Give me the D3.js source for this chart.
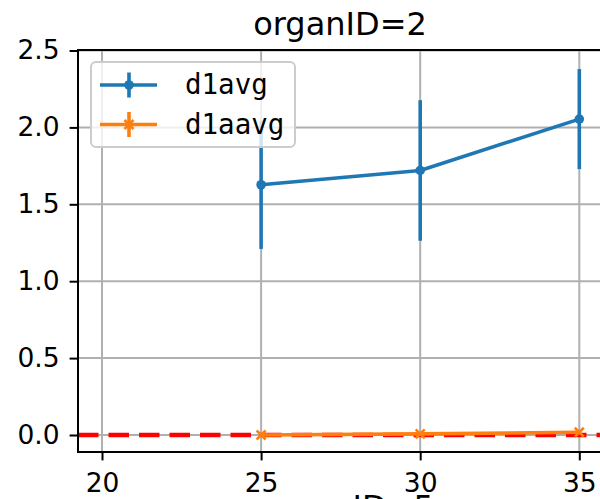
<!DOCTYPE html>
<html><head><meta charset="utf-8">
<script src="https://cdn.jsdelivr.net/npm/d3@7"></script>
<style>body{margin:0;background:#fff;overflow:hidden}svg{display:block}</style>
</head><body>
<svg id="c" width="600" height="499"></svg>
<script>
// ---- data ----
const xVals = [25, 30, 35];
const d1avg = [1.627, 1.72, 2.054];
const d1avgErr = [0.417, 0.457, 0.325];
const d1aavg = [0.0, 0.007, 0.018];
const d1aavgErr = [0.003, 0.003, 0.004];
const xTicks = [20, 25, 30, 35];
const yTicks = [0.0, 0.5, 1.0, 1.5, 2.0, 2.5];
const seriesNames = ["d1avg", "d1aavg"];
const titleText = "organID=2";
const nextTitleText = "organID=5";

const svg = d3.select("#c");
const L = 78, R = 603, T = 50, B = 452;
const x = d3.scaleLinear().domain([20, 35]).range([102, 579.3]);
const y = d3.scaleLinear().domain([0, 2.5]).range([435, 50.5]);
const blue = "#1f77b4", orange = "#ff7f0e";
const sans = "'DejaVu Sans', sans-serif";

svg.append("defs").append("clipPath").attr("id","clip")
  .append("rect").attr("x", L).attr("y", T).attr("width", R-L).attr("height", B-T);

// grid
const g = svg.append("g").attr("clip-path","url(#clip)");
g.selectAll(".gx").data(xTicks).join("line")
  .attr("x1", d=>x(d)).attr("x2", d=>x(d)).attr("y1", T).attr("y2", B)
  .attr("stroke","#b0b0b0").attr("stroke-width",2);
g.selectAll(".gy").data(yTicks).join("line")
  .attr("x1", L).attr("x2", R).attr("y1", d=>y(d)).attr("y2", d=>y(d))
  .attr("stroke","#b0b0b0").attr("stroke-width",2);

// red dashed zero line
g.append("line").attr("x1", L).attr("x2", R).attr("y1", y(0)).attr("y2", y(0))
  .attr("stroke","red").attr("stroke-width",4.6).attr("stroke-dasharray","20.5,10");

const line = d3.line().x((d,i)=>x(xVals[i])).y(d=>y(d));

// d1avg
g.selectAll(".eb1").data(d1avg).join("line")
  .attr("x1",(d,i)=>x(xVals[i])).attr("x2",(d,i)=>x(xVals[i]))
  .attr("y1",(d,i)=>y(d-d1avgErr[i])).attr("y2",(d,i)=>y(d+d1avgErr[i]))
  .attr("stroke",blue).attr("stroke-width",3.6);
g.append("path").datum(d1avg).attr("d",line).attr("fill","none")
  .attr("stroke",blue).attr("stroke-width",3.6).attr("stroke-linejoin","round");
g.selectAll(".m1").data(d1avg).join("circle")
  .attr("cx",(d,i)=>x(xVals[i])).attr("cy",d=>y(d)).attr("r",4.8).attr("fill",blue);

// d1aavg
g.selectAll(".eb2").data(d1aavg).join("line")
  .attr("x1",(d,i)=>x(xVals[i])).attr("x2",(d,i)=>x(xVals[i]))
  .attr("y1",(d,i)=>y(d-d1aavgErr[i])).attr("y2",(d,i)=>y(d+d1aavgErr[i]))
  .attr("stroke",orange).attr("stroke-width",3.6);
g.append("path").datum(d1aavg).attr("d",line).attr("fill","none")
  .attr("stroke",orange).attr("stroke-width",3.6).attr("stroke-linejoin","round");
const xs = 4.5;
g.selectAll(".m2").data(d1aavg).join("path")
  .attr("d",(d,i)=>{const cx=x(xVals[i]), cy=y(d);
    return `M${cx-xs},${cy-xs}L${cx+xs},${cy+xs}M${cx-xs},${cy+xs}L${cx+xs},${cy-xs}`;})
  .attr("stroke",orange).attr("stroke-width",2.6).attr("fill","none");

// axes
const ax = svg.append("g").attr("transform",`translate(0,${B})`)
  .call(d3.axisBottom(x).tickValues(xTicks).tickFormat(d3.format("d")).tickSize(8.4).tickPadding(8));
const ay = svg.append("g").attr("transform",`translate(${L},0)`)
  .call(d3.axisLeft(y).tickValues(yTicks).tickFormat(d3.format(".1f")).tickSize(8.4).tickPadding(10));
[ax, ay].forEach(a=>{
  a.select(".domain").remove();
  a.selectAll(".tick line").attr("stroke","#000").attr("stroke-width",2);
  a.selectAll(".tick text").attr("fill","#000").style("font-family",sans).style("font-size","26.5px");
});
ax.selectAll(".tick text").attr("y",40).attr("dy",0);
// spines
svg.append("rect").attr("x",L).attr("y",T).attr("width",R-L).attr("height",B-T)
  .attr("fill","none").attr("stroke","#000").attr("stroke-width",2);

// title
svg.append("text").attr("x",340).attr("y",34.5).attr("text-anchor","middle")
  .style("font-family",sans).style("font-size","32px").attr("fill","#000").text(titleText);
svg.append("text").attr("x",347).attr("y",518).attr("text-anchor","middle")
  .style("font-family",sans).style("font-size","32px").attr("fill","#000").text(nextTitleText);

// legend
const lg = svg.append("g");
lg.append("rect").attr("x",91).attr("y",62).attr("width",204).attr("height",85).attr("rx",5)
  .attr("fill","#fff").attr("fill-opacity",0.8).attr("stroke","#cccccc").attr("stroke-width",2);
const colors = [blue, orange];
seriesNames.forEach((name,i)=>{
  const cy = 85 + i*39.5;
  lg.append("line").attr("x1",100).attr("x2",157).attr("y1",cy).attr("y2",cy)
    .attr("stroke",colors[i]).attr("stroke-width",3.6);
  lg.append("line").attr("x1",129).attr("x2",129).attr("y1",cy-12.5).attr("y2",cy+12.5)
    .attr("stroke",colors[i]).attr("stroke-width",3.6);
  if(i===0) lg.append("circle").attr("cx",129).attr("cy",cy).attr("r",4.8).attr("fill",blue);
  else lg.append("path").attr("d",`M${129-xs},${cy-xs}L${129+xs},${cy+xs}M${129-xs},${cy+xs}L${129+xs},${cy-xs}`)
    .attr("stroke",orange).attr("stroke-width",2.6);
  lg.append("text").attr("x",185).attr("y",cy+9)
    .style("font-family","'DejaVu Sans Mono', monospace").style("font-size","27.5px")
    .attr("fill","#000").text(name);
});
</script>
</body></html>
